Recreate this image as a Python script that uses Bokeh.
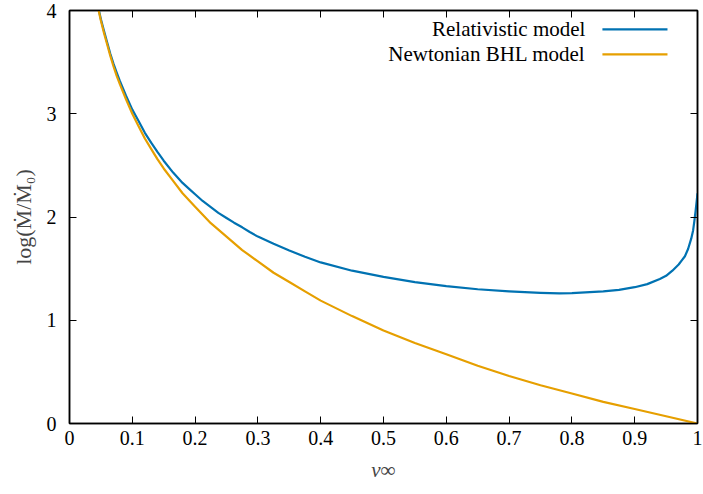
from bokeh.plotting import figure
from bokeh.models import Range1d, LinearAxis, FixedTicker, Label
from bokeh.embed import file_html
from bokeh.resources import INLINE

# ---- data ----
v_newt = [0.040, 0.045, 0.050, 0.055, 0.060, 0.065, 0.070, 0.075, 0.080, 0.090,
          0.100, 0.110, 0.120, 0.130, 0.140, 0.150, 0.165, 0.180, 0.200, 0.225,
          0.250, 0.275, 0.300, 0.325, 0.350, 0.375, 0.400, 0.450, 0.500, 0.550,
          0.600, 0.650, 0.700, 0.750, 0.800, 0.850, 0.900, 0.950, 1.000]
mdot_newt = [4.19, 4.04, 3.90, 3.78, 3.67, 3.56, 3.46, 3.37, 3.29, 3.14,
             3.00, 2.88, 2.76, 2.66, 2.56, 2.47, 2.35, 2.23, 2.10, 1.94,
             1.81, 1.68, 1.57, 1.46, 1.37, 1.28, 1.19, 1.04, 0.90, 0.78,
             0.67, 0.56, 0.46, 0.37, 0.29, 0.21, 0.14, 0.07, 0.00]

v_rel = [0.040, 0.045, 0.050, 0.055, 0.060, 0.065, 0.070, 0.075, 0.080, 0.090,
         0.100, 0.110, 0.120, 0.130, 0.140, 0.150, 0.165, 0.180, 0.190, 0.200,
         0.212, 0.225, 0.237, 0.250, 0.262, 0.275, 0.287, 0.300, 0.325, 0.350,
         0.375, 0.400, 0.450, 0.500, 0.550, 0.600, 0.650, 0.700, 0.750, 0.780,
         0.800, 0.850, 0.875, 0.900, 0.920, 0.940, 0.950, 0.960, 0.970, 0.975,
         0.980, 0.985, 0.990, 0.993, 0.995, 0.997, 0.999, 1.000]
mdot_rel = [4.20, 4.05, 3.915, 3.80, 3.69, 3.58, 3.485, 3.40, 3.32, 3.175,
            3.04, 2.93, 2.815, 2.72, 2.63, 2.545, 2.43, 2.33, 2.275, 2.22,
            2.155, 2.095, 2.04, 1.99, 1.945, 1.90, 1.855, 1.81, 1.74, 1.675,
            1.615, 1.56, 1.48, 1.42, 1.37, 1.33, 1.30, 1.28, 1.265, 1.26,
            1.262, 1.28, 1.295, 1.32, 1.35, 1.40, 1.43, 1.48, 1.54, 1.58,
            1.62, 1.69, 1.79, 1.87, 1.96, 2.06, 2.17, 2.23]

x_ticks = [0, 0.1, 0.2, 0.3, 0.4, 0.5, 0.6, 0.7, 0.8, 0.9, 1.0]
y_ticks = [0, 1, 2, 3, 4]
x_tick_labels = ["0", "0.1", "0.2", "0.3", "0.4", "0.5", "0.6", "0.7", "0.8", "0.9", "1"]
series_names = ["Relativistic model", "Newtonian BHL model"]
colors = ["#0072b2", "#e69f00"]

FONT = "Liberation Serif"

p = figure(width=703, height=494, output_backend="svg", toolbar_location=None,
           x_range=Range1d(0, 1), y_range=Range1d(0, 4),
           min_border_left=69, min_border_right=6, min_border_top=10, min_border_bottom=71)
p.xgrid.visible = False
p.ygrid.visible = False
p.outline_line_color = "black"
p.outline_line_width = 1.5

p.line(v_rel, mdot_rel, line_color=colors[0], line_width=2.2, line_join="round")
p.line(v_newt, mdot_newt, line_color=colors[1], line_width=2.2, line_join="round")

def style_axis(ax, ticks, show_labels):
    ax.ticker = FixedTicker(ticks=ticks)
    ax.major_tick_in = 7
    ax.major_tick_out = 0
    ax.minor_tick_in = 0
    ax.minor_tick_out = 0
    ax.axis_line_color = "black"
    ax.axis_line_width = 1.5
    ax.major_tick_line_color = "black"
    ax.major_tick_line_width = 1
    if show_labels:
        ax.major_label_text_font = FONT
        ax.major_label_text_font_size = "20px"
        ax.major_label_text_color = "black"
    else:
        ax.major_label_overrides = {t: "" for t in ticks}
        ax.major_label_text_font_size = "1px"
        ax.major_label_standoff = 0

xa = p.xaxis[0]
style_axis(xa, x_ticks, True)
xa.major_label_overrides = dict(zip(x_ticks, x_tick_labels))
xa.major_label_standoff = 7
xa.axis_label = "v∞"
xa.axis_label_text_font = FONT
xa.axis_label_text_font_style = "italic"
xa.axis_label_text_font_size = "21px"
xa.axis_label_standoff = 10

ya = p.yaxis[0]
style_axis(ya, y_ticks, True)
ya.major_label_standoff = 13
ya.axis_label = "log(Ṁ/Ṁ₀)"
ya.axis_label_text_font = FONT
ya.axis_label_text_font_style = "normal"
ya.axis_label_text_font_size = "22px"
ya.axis_label_standoff = 8

top = LinearAxis()
style_axis(top, x_ticks, False)
p.add_layout(top, "above")
right = LinearAxis()
style_axis(right, y_ticks, False)
p.add_layout(right, "right")

# manual legend (text right-aligned, sample line to the right)
leg_y = [3.817, 3.576]
for name, col, yy in zip(series_names, colors, leg_y):
    p.add_layout(Label(x=0.8215, y=yy, text=name, text_align="right",
                       text_baseline="middle", text_font=FONT,
                       text_font_size="21px", text_color="black"))
    p.segment(x0=[0.8486], y0=[yy], x1=[0.9522], y1=[yy], line_color=col, line_width=2.2)

open("out.html", "w").write(file_html(p, INLINE))
